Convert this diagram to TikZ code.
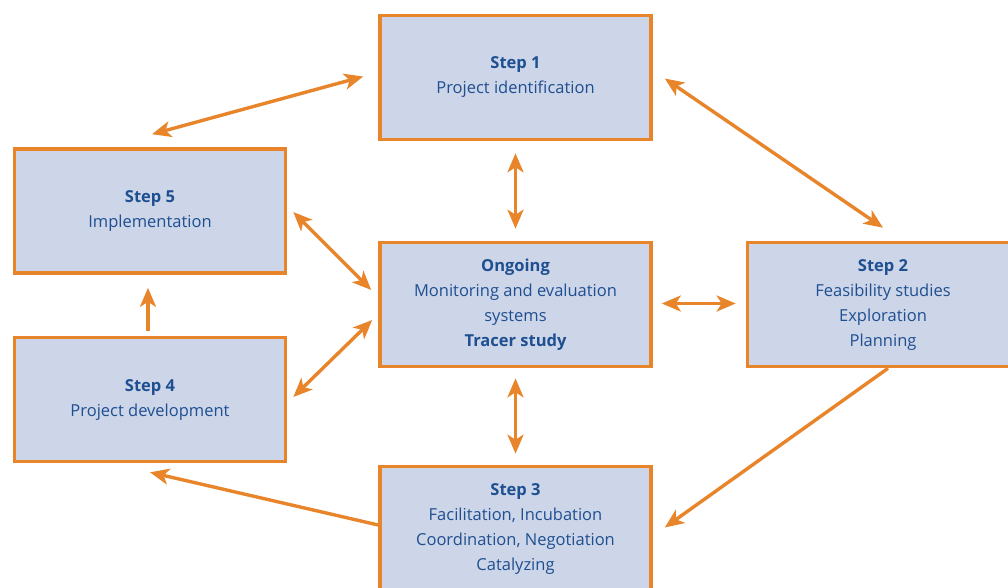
\documentclass[tikz,border=0pt]{standalone}
\usepackage{fontspec}
\setmainfont{Open Sans}
\usetikzlibrary{arrows.meta}
\definecolor{boxor}{HTML}{E8852A}
\definecolor{boxfill}{HTML}{CDD5E8}
\definecolor{txtblue}{HTML}{1E4F91}
\begin{document}
\begin{tikzpicture}[x=1pt,y=-1pt,
  box/.style={draw=boxor,fill=boxfill,line width=3.6pt,minimum width=271pt,minimum height=124pt,
    inner sep=0pt,align=center,text=txtblue,font=\fontsize{16.5}{25}\selectfont},
  con/.style={draw=boxor,line width=3.4pt},
  tip/.tip={Stealth[length=19pt,width=16pt,inset=5pt]},
  dbl/.style={con,tip-tip},
  sgl/.style={con,-tip}]
\useasboundingbox (0,0) rectangle (1008,587);
\clip (0,0) rectangle (1008,587);
\node[box] (s1) at (515.5,77.5) {\textbf{Step 1}\\Project identification};
\node[box] (s5) at (150,211) {\textbf{Step 5}\\Implementation};
\node[box] (on) at (515.5,304.5) {\textbf{Ongoing}\\Monitoring and evaluation\\systems\\\textbf{Tracer study}};
\node[box] (s2) at (883,304.5) {\textbf{Step 2}\\Feasibility studies\\Exploration\\Planning};
\node[box] (s4) at (150,399.5) {\textbf{Step 4}\\Project development};
\node[box] (s3) at (515.5,528.5) {\textbf{Step 3}\\Facilitation, Incubation\\Coordination, Negotiation\\Catalyzing};
\draw[dbl] ([shift={(2pt,13pt)}]s5.north) -- ([shift={(-15pt,1pt)}]s1.west);
\draw[dbl] ([shift={(12pt,-1pt)}]s1.east) -- ([yshift=13pt]s2.north);
\draw[dbl] ([yshift=-12pt]s1.south) -- ([yshift=12pt]on.north);
\draw[dbl] ([shift={(6pt,-1pt)}]s5.east) -- ([shift={(-7pt,14.5pt)}]on.west);
\draw[dbl] ([shift={(6pt,2.5pt)}]s4.east) -- ([shift={(-6pt,-15.5pt)}]on.west);
\draw[sgl] ([shift={(-2pt,5pt)}]s4.north) -- ([shift={(-2pt,-13pt)}]s5.south);
\draw[dbl] ([shift={(9pt,1pt)}]on.east) -- ([shift={(-10pt,1pt)}]s2.west);
\draw[dbl] ([yshift=-10pt]on.south) -- ([yshift=11pt]s3.north);
\draw[sgl] ([xshift=5pt]s2.south) -- ([shift={(12pt,1pt)}]s3.east);
\draw[sgl] ([yshift=3.5pt]s3.west) -- ([yshift=-9pt]s4.south);
\end{tikzpicture}
\end{document}
